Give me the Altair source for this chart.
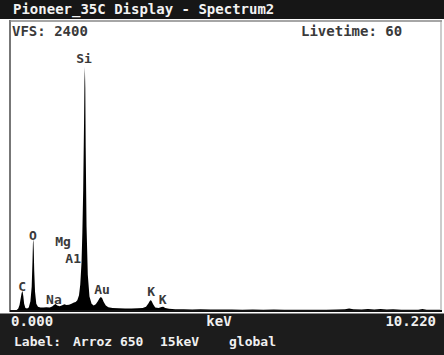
import altair as alt
import pandas as pd

# ---- spectrum (energy in keV, counts) ----
energy = [0.00, 0.10, 0.15, 0.18, 0.21, 0.23, 0.25, 0.27, 0.29, 0.32,
          0.36, 0.40, 0.44, 0.47, 0.49, 0.50, 0.51, 0.52, 0.53, 0.55,
          0.58, 0.62, 0.68, 0.75, 0.82, 0.90, 0.96, 1.00, 1.04, 1.08,
          1.14, 1.20, 1.25, 1.30, 1.36, 1.42, 1.48, 1.52, 1.56, 1.60,
          1.63, 1.66, 1.68, 1.70, 1.72, 1.73, 1.74, 1.75, 1.76, 1.78,
          1.81, 1.85, 1.90, 1.95, 2.00, 2.05, 2.09, 2.12, 2.15, 2.19,
          2.24, 2.30, 2.40, 2.55, 2.70, 2.85, 3.00, 3.12, 3.20, 3.26,
          3.30, 3.33, 3.37, 3.42, 3.50, 3.57, 3.61, 3.66, 3.75, 3.90,
          4.10, 4.30, 4.50, 4.75, 5.00, 5.25, 5.50, 5.75, 6.00, 6.25,
          6.50, 6.75, 7.00, 7.25, 7.50, 7.75, 7.95, 8.05, 8.15, 8.35,
          8.50, 8.65, 8.80, 8.95, 9.10, 9.30, 9.50, 9.70, 9.80, 9.90,
          10.05, 10.22]
counts = [0, 5, 20, 50, 110, 150, 165, 125, 60, 25,
          20, 30, 80, 200, 420, 560, 595, 500, 340, 160,
          60, 35, 30, 28, 32, 30, 38, 50, 58, 45,
          40, 48, 55, 50, 52, 60, 70, 75, 90, 130,
          220, 400, 650, 1000, 1550, 1900, 2020, 1850, 1350, 700,
          300, 120, 60, 45, 55, 80, 105, 115, 108, 75,
          45, 32, 25, 22, 20, 20, 22, 25, 35, 65,
          88, 85, 55, 30, 25, 33, 35, 25, 18, 15,
          14, 13, 14, 12, 13, 12, 11, 12, 11, 12,
          11, 10, 11, 10, 11, 12, 15, 20, 14, 12,
          17, 13, 16, 12, 15, 10, 10, 11, 17, 11,
          10, 10]
assert len(energy) == len(counts)

# ---- peak labels ----
peak_names = ["Si", "O", "Mg", "A1", "C", "Na", "Au", "K", "K"]
peak_kev = [1.72, 0.50, 1.22, 1.46, 0.24, 1.00, 2.15, 3.32, 3.60]
peak_cnt = [2085, 621, 571, 430, 199, 91, 174, 157, 91]

# ---- screen texts ----
title_text = "Pioneer_35C Display - Spectrum2"
vfs_text = "VFS: 2400"
live_text = "Livetime: 60"
x_min_text = "0.000"
x_unit_text = "keV"
x_max_text = "10.220"
label_words = ["Label:", "Arroz 650", "15keV", "global"]

KEV_MAX = 10.22
VFS = 2400

spec = pd.DataFrame({"keV": energy, "counts": counts})
peaks = pd.DataFrame({"name": peak_names, "keV": peak_kev, "counts": peak_cnt})
one = pd.DataFrame({"a": [0]})

xs = alt.Scale(domain=[0, KEV_MAX], range=[12, 440], nice=False, zero=False)
ys = alt.Scale(domain=[0, VFS], range=[311, 21], nice=False, zero=True)

MONO = "DejaVu Sans Mono"

def rect(x, x2, y, y2, color):
    return alt.Chart(one).mark_rect(color=color).encode(
        x=alt.value(x), x2=alt.value(x2), y=alt.value(y), y2=alt.value(y2))

def rule(x, x2, y, y2, color, w):
    return alt.Chart(one).mark_rule(color=color, strokeWidth=w).encode(
        x=alt.value(x), x2=alt.value(x2), y=alt.value(y), y2=alt.value(y2))

def txt(t, x, y, color, size, align="left", weight="bold"):
    return alt.Chart(one).mark_text(
        font=MONO, fontSize=size, fontWeight=weight, color=color,
        align=align, baseline="middle").encode(
        x=alt.value(x), y=alt.value(y), text=alt.value(t))

area = alt.Chart(spec).mark_area(color="black", interpolate="linear").encode(
    x=alt.X("keV:Q", scale=xs, axis=None),
    y=alt.Y("counts:Q", scale=ys, axis=None),
)

labels = alt.Chart(peaks).mark_text(
    font=MONO, fontSize=13, fontWeight="bold", color="#3a3a3a",
    align="center", baseline="middle").encode(
    x=alt.X("keV:Q", scale=xs, axis=None),
    y=alt.Y("counts:Q", scale=ys, axis=None),
    text="name:N",
)

layers = [
    rect(0, 444, 0, 19, "#161616"),
    rule(10, 10, 20, 312, "#777777", 2),
    rule(10, 442, 21, 21, "#888888", 1.5),
    rule(441, 441, 20, 312, "#999999", 1),
    area,
    rule(10, 442, 311, 311, "#111111", 2),
    rule(0, 444, 313.5, 313.5, "#888888", 1),
    rect(0, 444, 314, 355, "#1c1c1c"),
    labels,
    txt(title_text, 13, 10, "#f2f2f2", 14),
    txt(vfs_text, 12, 32, "#3a3a3a", 14),
    txt(live_text, 301, 32, "#3a3a3a", 14),
    txt(x_min_text, 11, 322, "#f0f0f0", 14),
    txt(x_unit_text, 219, 322, "#f0f0f0", 14, align="center"),
    txt(x_max_text, 436, 322, "#f0f0f0", 14, align="right"),
    txt(label_words[0], 14, 342, "#f0f0f0", 13),
    txt(label_words[1], 73, 342, "#f0f0f0", 13),
    txt(label_words[2], 160, 342, "#f0f0f0", 13),
    txt(label_words[3], 229, 342, "#f0f0f0", 13),
]

chart = alt.layer(*layers).properties(
    width=444, height=355,
    autosize=alt.AutoSizeParams(type="none"),
    padding=0,
    background="white",
).configure_view(stroke=None)

chart.save("out.html", embed_options={"renderer": "svg", "actions": False})
